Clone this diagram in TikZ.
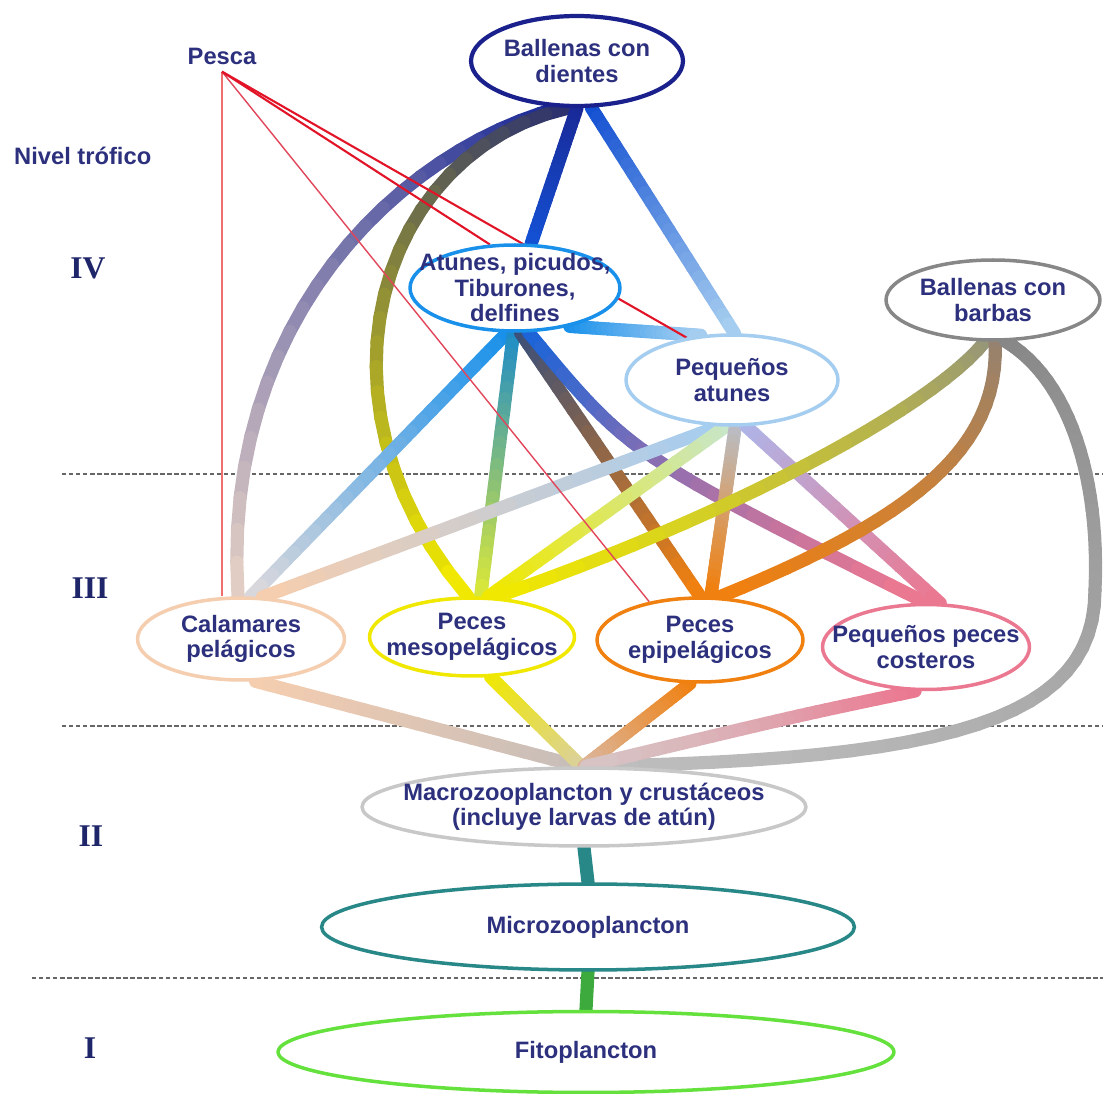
\documentclass[tikz,border=0pt]{standalone}
\usepackage{fontspec}
\setsansfont{Liberation Sans}
\newfontfamily\romfont{Liberation Serif}
\usetikzlibrary{shapes.geometric}

\definecolor{navy}{RGB}{44,48,125}
\definecolor{romnavy}{RGB}{30,38,105}
\definecolor{dkblue}{RGB}{26,32,140}
\definecolor{bDark}{RGB}{25,40,150}
\definecolor{bNight}{RGB}{45,50,110}
\definecolor{bMid}{RGB}{20,80,210}
\definecolor{bSky}{RGB}{25,145,235}
\definecolor{bSea}{RGB}{30,140,200}
\definecolor{bRoyal}{RGB}{30,100,215}
\definecolor{bPale}{RGB}{165,205,240}
\definecolor{slate}{RGB}{60,80,120}
\definecolor{sand}{RGB}{225,205,195}
\definecolor{peach}{RGB}{245,205,175}
\definecolor{yel}{RGB}{240,232,0}
\definecolor{orng}{RGB}{240,128,16}
\definecolor{pink}{RGB}{235,120,145}
\definecolor{lilac}{RGB}{175,180,230}
\definecolor{mint}{RGB}{200,230,200}
\definecolor{ash}{RGB}{185,190,200}
\definecolor{haze}{RGB}{215,215,220}
\definecolor{lime}{RGB}{215,230,60}
\definecolor{khaki}{RGB}{150,150,120}
\definecolor{umber}{RGB}{150,130,110}
\definecolor{grayb}{RGB}{135,135,135}
\definecolor{grayc}{RGB}{160,160,160}
\definecolor{grayd}{RGB}{190,190,190}
\definecolor{lgray}{RGB}{200,200,200}
\definecolor{teal}{RGB}{40,135,135}
\definecolor{grass}{RGB}{60,170,60}
\definecolor{lgreen}{RGB}{100,225,60}
\definecolor{rDark}{RGB}{225,20,40}
\definecolor{rLight}{RGB}{240,110,110}
\definecolor{rThin}{RGB}{225,70,90}
\definecolor{tPeach}{RGB}{200,190,185}
\definecolor{tYel}{RGB}{220,210,150}
\definecolor{tOrng}{RGB}{220,180,150}
\definecolor{tPink}{RGB}{215,195,195}

\pgfdeclarelayer{bg}
\pgfsetlayers{bg,main}

\tikzset{
  ell/.style={ellipse, draw=#1, line width=2pt, fill=white, inner sep=0pt},
  lbl/.style={font=\sffamily\bfseries\fontsize{13.5}{14.5}\selectfont, text=navy, align=center},
  lvl/.style={font=\romfont\bfseries\fontsize{18}{18}\selectfont, text=romnavy},
  link/.style={line width=7.5pt, line cap=round},
  nivel/.style={dash pattern=on 2.5pt off 1.5pt, line width=1.2pt, draw=gray!80!black},
  catch/.style={draw=#1, line width=0.8pt}
}

% colour runs from #2 to #3 along the path #1
\newcommand{\gradlink}[3]{%
  \path #1 \foreach \k [evaluate=\k as \t using \k/24] in {0,...,24} {coordinate[pos=\t] (g\k)};
  \foreach \k [evaluate=\k as \n using int(\k+1), evaluate=\k as \p using int(100*\k/23)] in {0,...,23}
    {\draw[link, #3!\p!#2] (g\k) -- (g\n);}
}

\begin{document}
\begin{tikzpicture}[line cap=round,line join=round,x=0.02cm,y=-0.02cm]
\useasboundingbox (0,0) rectangle (1103,1094);

\node[lbl, anchor=west] (nivel) at (8,156) {Nivel trófico};
\node[lbl, inner sep=4pt] (pesca) at (222,56) {Pesca};
\node[lvl] (lIV) at (88,268) {IV};
\node[lvl] (lIII) at (90,588) {III};
\node[lvl] (lII) at (91,836) {II};
\node[lvl] (lI) at (90,1048) {I};

\node[ell=dkblue, line width=2.4pt, minimum width=4.24cm, minimum height=1.8cm,
  label={[lbl]center:{Ballenas con\\dientes}}] (dien) at (577,61) {};
\node[ell=bSky, minimum width=4.2cm, minimum height=1.72cm,
  label={[lbl]center:{Atunes, picudos,\\Tiburones,\\delfines}}] (atun) at (515,288) {};
\node[ell=bPale, minimum width=4.24cm, minimum height=1.8cm,
  label={[lbl]center:{Pequeños\\atunes}}] (peq) at (732,380) {};
\node[ell=grayb, minimum width=4.28cm, minimum height=1.6cm,
  label={[lbl]center:{Ballenas con\\barbas}}] (barb) at (993,300) {};
\node[ell=peach, minimum width=4.14cm, minimum height=1.64cm,
  label={[lbl]center:{Calamares\\pelágicos}}] (cala) at (241,639) {};
\node[ell=yel, minimum width=4.1cm, minimum height=1.56cm,
  label={[lbl]center:{Peces\\mesopelágicos}}] (meso) at (472,637) {};
\node[ell=orng, minimum width=4.12cm, minimum height=1.68cm,
  label={[lbl]center:{Peces\\epipelágicos}}] (epi) at (700,640) {};
\node[ell=pink, minimum width=4.14cm, minimum height=1.7cm,
  label={[lbl]center:{Pequeños peces\\costeros}}] (cost) at (926,647) {};
\node[ell=lgray, minimum width=8.88cm, minimum height=1.56cm,
  label={[lbl]center:{Macrozooplancton y crustáceos\\(incluye larvas de atún)}}] (macro) at (584,807) {};
\node[ell=teal, minimum width=10.66cm, minimum height=1.72cm,
  label={[lbl]center:{Microzooplancton}}] (micro) at (588,927) {};
\node[ell=lgreen, minimum width=12.32cm, minimum height=1.62cm,
  label={[lbl]center:{Fitoplancton}}] (fito) at (586,1052) {};

\coordinate (bend) at (1095,590);

\begin{pgfonlayer}{bg}
\draw[nivel] (62,474) -- (1103,474);
\draw[nivel] (62,726) -- (1103,726);
\draw[nivel] (32,978) -- (1103,978);

\gradlink{(dien.-110) .. controls (400,150) and (220,320) .. (cala.94)}{bDark}{sand}
\gradlink{(dien.-100) .. controls (380,150) and (300,400) .. (meso.96)}{bNight}{yel}
\gradlink{(dien.-90) -- (atun.70)}{bDark}{bMid}
\gradlink{(dien.-73) -- (peq.87)}{bMid}{bPale}

\gradlink{(atun.-100) -- (cala.77)}{bSky}{haze}
\gradlink{(atun.-92) -- (meso.78)}{bSea}{lime}
\gradlink{(atun.-83) -- (epi.90)}{slate}{orng}
\gradlink{(atun.-73) .. controls (630,455) .. (cost.90)}{bRoyal}{pink}
\gradlink{(atun.-35) -- (peq.125)}{bSky}{bPale}

\gradlink{(peq.-106) -- (cala.63)}{bPale}{peach}
\gradlink{(peq.-98) -- (meso.68)}{mint}{yel}
\gradlink{(peq.-86) -- (epi.76)}{ash}{orng}
\gradlink{(peq.-73) -- (cost.72)}{lilac}{pink}

\gradlink{(barb.-101) .. controls (930,410) and (720,520) .. (meso.60)}{khaki}{yel}
\gradlink{(barb.-87) .. controls (1000,450) and (910,520) .. (epi.66)}{umber}{orng}
\gradlink{(barb.-73) .. controls (1070,380) and (1100,480) .. (bend)}{grayb}{grayc}
\gradlink{(bend) .. controls (1095,720) and (950,760) .. (macro.85)}{grayc}{grayd}

\gradlink{(cala.-71) -- (macro.97)}{peach}{tPeach}
\gradlink{(meso.-65) -- (macro.94)}{yel}{tYel}
\gradlink{(epi.-103) -- (macro.90)}{orng}{tOrng}
\gradlink{(cost.-104) .. controls (800,715) .. (macro.87)}{pink}{tPink}

\draw[link, teal] (macro.south) -- (micro.north);
\draw[link, grass] (micro.south) -- (fito.north);

\draw[catch=rLight] (pesca.south) -- (pesca.south |- cala.north);
\draw[catch=rThin] (pesca.south) -- (epi.143);
\draw[catch=rDark, line width=1.2pt] (pesca.south) -- (atun.120);
\draw[catch=rDark, line width=1.2pt] (pesca.south) -- (peq.137);
\end{pgfonlayer}
\end{tikzpicture}
\end{document}
